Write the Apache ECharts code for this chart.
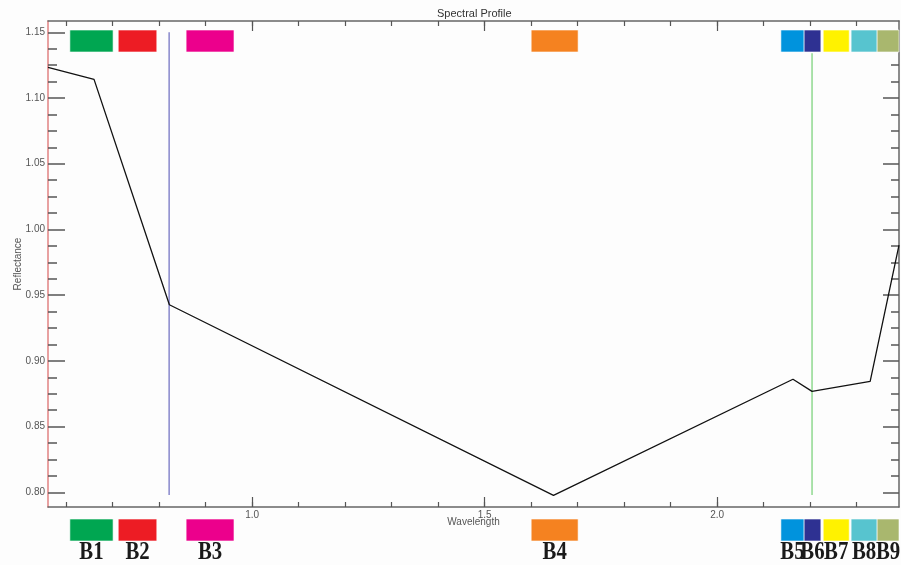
<!DOCTYPE html>
<html>
<head>
<meta charset="utf-8">
<script src="https://cdn.jsdelivr.net/npm/echarts@6/dist/echarts.min.js"></script>
<style>
html,body{margin:0;padding:0;background:#fdfdfd;}
#chart{width:901px;height:565px;}
</style>
</head>
<body>
<div id="chart"></div>
<script>
// ---- data ----
const wavelengths = [0.561, 0.660, 0.822, 1.648, 2.163, 2.204, 2.329, 2.391];
const reflectance = [1.1234, 1.1142, 0.9427, 0.7977, 0.8860, 0.8768, 0.8844, 0.9880];

const blueLineX = [0.8215, 0.8215];
const blueLineY = [1.150, 0.798];
const greenLineX = [2.204, 2.204];
const greenLineY = [1.134, 0.798];

const bandNames = ['B1','B2','B3','B4','B5','B6','B7','B8','B9'];
const bandStart = [0.608, 0.712, 0.858, 1.600, 2.137, 2.187, 2.228, 2.288, 2.344];
const bandEnd   = [0.701, 0.795, 0.961, 1.701, 2.187, 2.223, 2.284, 2.344, 2.391];
const bandColors = ['#00a651','#ed1c24','#ec008c','#f58220','#0093dd','#2e3192','#fff200','#57c4cf','#a9b76e'];

const xMajorTicks = [1.0, 1.5, 2.0];
const xMinorTicks = [0.6,0.7,0.8,0.9,1.0,1.1,1.2,1.3,1.4,1.5,1.6,1.7,1.8,1.9,2.0,2.1,2.2,2.3];
const yMajorTicks = [0.80, 0.85, 0.90, 0.95, 1.00, 1.05, 1.10, 1.15];
const yMinorTicks = [0.8125,0.825,0.8375,0.8625,0.875,0.8875,0.9125,0.925,0.9375,0.9625,0.975,0.9875,
                     1.0125,1.025,1.0375,1.0625,1.075,1.0875,1.1125,1.125,1.1375];

const X_MIN = 0.561, X_MAX = 2.391, Y_MIN = 0.7888, Y_MAX = 1.1586;

// ---- chart ----
const chart = echarts.init(document.getElementById('chart'), null, {renderer:'canvas'});
const FONT = 'Liberation Sans';
const tickColor = '#555';

function xAxisDef(pos, ticks, len, showLine, showLabel) {
  return {
    type: 'value', position: pos, min: X_MIN, max: X_MAX,
    axisLine: {show: showLine, onZero: false, lineStyle: {color: '#666', width: 1.5}},
    axisTick: {show: true, inside: true, length: len, customValues: ticks, lineStyle: {color: tickColor, width: 1.2}},
    axisLabel: showLabel ? {show: true, customValues: ticks, formatter: v => v.toFixed(1),
      fontSize: 10, color: '#555', fontFamily: FONT, margin: 3} : {show: false},
    splitLine: {show: false}
  };
}
function yAxisDef(pos, ticks, len, lineColor, showLine, showLabel) {
  return {
    type: 'value', position: pos, min: Y_MIN, max: Y_MAX,
    axisLine: {show: showLine, onZero: false, lineStyle: {color: lineColor, width: 1.5}},
    axisTick: {show: true, inside: true, length: len, customValues: ticks, lineStyle: {color: tickColor, width: 1.5}},
    axisLabel: showLabel ? {show: true, customValues: ticks, formatter: v => v.toFixed(2),
      fontSize: 10, color: '#555', fontFamily: FONT, margin: 3} : {show: false},
    splitLine: {show: false}
  };
}

const xAxes = [
  xAxisDef('bottom', xMajorTicks, 10, true, true),
  xAxisDef('bottom', xMinorTicks, 5, false, false),
  xAxisDef('top', xMajorTicks, 10, true, false),
  xAxisDef('top', xMinorTicks, 5, false, false)
];
Object.assign(xAxes[0], {name: 'Wavelength', nameLocation: 'middle', nameGap: 10, nameMoveOverlap: false,
  nameTextStyle: {fontSize: 10, color: '#555', fontFamily: FONT}});

const yAxes = [
  yAxisDef('left', yMajorTicks, 17, '#e08282', true, true),
  yAxisDef('left', yMinorTicks, 9, '#e08282', false, false),
  yAxisDef('right', yMajorTicks, 16, '#666', true, false),
  yAxisDef('right', yMinorTicks, 8, '#666', false, false)
];
Object.assign(yAxes[0], {name: 'Reflectance', nameLocation: 'middle', nameGap: 25, nameMoveOverlap: false,
  nameTextStyle: {fontSize: 10, color: '#555', fontFamily: FONT}});

const bandData = bandNames.map((n, i) => [bandStart[i], bandEnd[i], i]);

function renderBand(params, api) {
  const i = api.value(2);
  const cs = params.coordSys;
  const p0 = api.coord([api.value(0), Y_MAX]);
  const p1 = api.coord([api.value(1), Y_MAX]);
  const x = p0[0], w = p1[0] - p0[0];
  const top = cs.y, bottom = cs.y + cs.height;
  const style = {fill: bandColors[i], stroke: 'rgba(255,255,255,0.6)', lineWidth: 1};
  return {
    type: 'group',
    children: [
      {type: 'rect', shape: {x: x, y: top + 9, width: w, height: 22}, style: style},
      {type: 'rect', shape: {x: x, y: bottom + 12, width: w, height: 22}, style: style},
      {type: 'text', x: x + w / 2, y: bottom + 45, scaleX: 0.8, scaleY: 1,
        style: {text: bandNames[i], fill: '#1a1a1a', font: 'bold 26px "Liberation Serif"',
          align: 'center', verticalAlign: 'middle'}}
    ]
  };
}

chart.setOption({
  backgroundColor: '#fdfdfd',
  animation: false,
  grid: {left: 48, right: 2, top: 21, bottom: 58, containLabel: false, outerBoundsMode: 'none'},
  graphic: [{type: 'text', left: 437, top: 8,
    style: {text: 'Spectral Profile', font: '11px "Liberation Sans"', fill: '#333'}}],
  xAxis: xAxes,
  yAxis: yAxes,
  series: [
    {type: 'line', xAxisIndex: 0, yAxisIndex: 0, data: blueLineX.map((x, i) => [x, blueLineY[i]]),
      showSymbol: false, lineStyle: {color: '#8888cc', width: 1.5}, z: 2},
    {type: 'line', xAxisIndex: 0, yAxisIndex: 0, data: greenLineX.map((x, i) => [x, greenLineY[i]]),
      showSymbol: false, lineStyle: {color: '#8fd88f', width: 1.5}, z: 2},
    {type: 'line', xAxisIndex: 0, yAxisIndex: 0, data: wavelengths.map((x, i) => [x, reflectance[i]]),
      showSymbol: false, lineStyle: {color: '#111', width: 1.3}, z: 3},
    {type: 'custom', xAxisIndex: 0, yAxisIndex: 0, data: bandData, renderItem: renderBand,
      clip: false, z: 4}
  ]
});
</script>
</body>
</html>
